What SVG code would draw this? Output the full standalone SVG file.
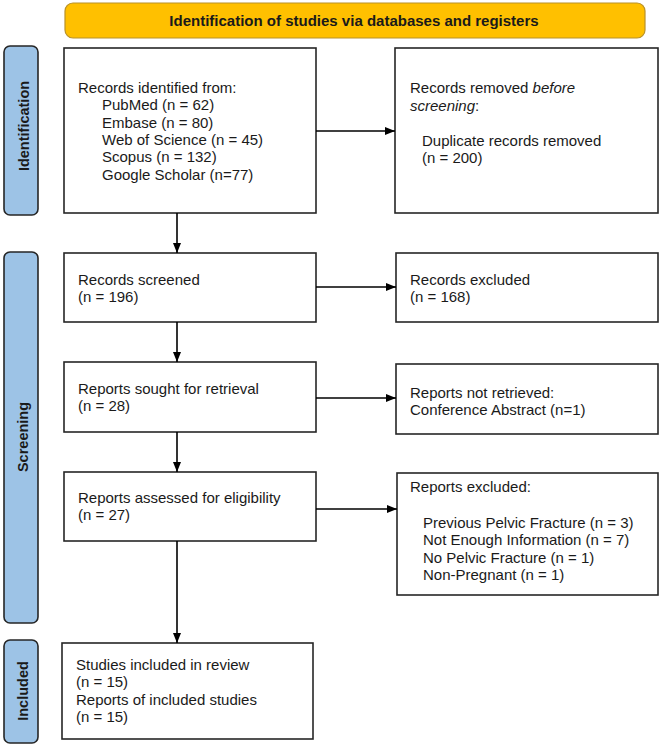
<svg xmlns="http://www.w3.org/2000/svg" width="661" height="746" viewBox="0 0 661 746">
<style>
.box{fill:#fff;stroke:#262626;stroke-width:1.6}
.t{font-family:"Liberation Sans",Arial,sans-serif;font-size:15px;fill:#1a1a1a}
.hdr{fill:#FFC000;stroke:#B8912A;stroke-width:1.2}
.bar{fill:#9DC3E6;stroke:#262626;stroke-width:1.6}
.bl{font-family:"Liberation Sans",Arial,sans-serif;font-size:14.5px;font-weight:bold;fill:#1a1a1a;text-anchor:middle}
.ht{font-family:"Liberation Sans",Arial,sans-serif;font-size:15px;font-weight:bold;fill:#1a1a1a;text-anchor:middle}
.c{stroke:#000;stroke-width:1.6;fill:none;marker-end:url(#ah)}
</style>
<defs>
<marker id="ah" viewBox="0 0 10 10" refX="10" refY="5" markerWidth="10" markerHeight="10" markerUnits="userSpaceOnUse" orient="auto">
<path d="M0,1 L10,5 L0,9 Z" fill="#000"/>
</marker>
</defs>
<g id="header">
<rect class="hdr" x="65" y="3" width="580" height="35" rx="8"/>
<text class="ht" x="354" y="26">Identification of studies via databases and registers</text>
</g>
<g id="bar-identification">
<rect class="bar" x="4" y="46" width="34" height="169" rx="6"/>
<text class="bl" transform="translate(28.5,126) rotate(-90)">Identification</text>
</g>
<g id="bar-screening">
<rect class="bar" x="4" y="252" width="34" height="371" rx="6"/>
<text class="bl" transform="translate(28,437) rotate(-90)">Screening</text>
</g>
<g id="bar-included">
<rect class="bar" x="4" y="640" width="34" height="103" rx="6"/>
<text class="bl" transform="translate(28,691) rotate(-90)">Included</text>
</g>
<g id="records-identified">
<rect class="box" x="64" y="48" width="252" height="165"/>
<text class="t" x="78" y="93">Records identified from:</text>
<text class="t" x="102" y="110.3">PubMed (n = 62)</text>
<text class="t" x="102" y="127.6">Embase (n = 80)</text>
<text class="t" x="102" y="144.9">Web of Science (n = 45)</text>
<text class="t" x="102" y="162.2">Scopus (n = 132)</text>
<text class="t" x="102" y="179.5">Google Scholar (n=77)</text>
</g>
<g id="records-removed">
<rect class="box" x="395" y="48" width="263" height="165"/>
<text class="t" x="410" y="93">Records removed <tspan font-style="italic">before</tspan></text>
<text class="t" x="410" y="111"><tspan font-style="italic">screening</tspan>:</text>
<text class="t" x="422" y="146">Duplicate records removed</text>
<text class="t" x="422" y="163">(n = 200)</text>
</g>
<g id="records-screened">
<rect class="box" x="64" y="253" width="252" height="69"/>
<text class="t" x="78" y="285">Records screened</text>
<text class="t" x="78" y="302.3">(n = 196)</text>
</g>
<g id="records-excluded">
<rect class="box" x="396" y="253" width="262" height="69"/>
<text class="t" x="410" y="285">Records excluded</text>
<text class="t" x="410" y="302.3">(n = 168)</text>
</g>
<g id="reports-sought">
<rect class="box" x="64" y="362" width="252" height="70"/>
<text class="t" x="78" y="394">Reports sought for retrieval</text>
<text class="t" x="78" y="411.3">(n = 28)</text>
</g>
<g id="reports-not-retrieved">
<rect class="box" x="396" y="364" width="262" height="70"/>
<text class="t" x="410" y="398">Reports not retrieved:</text>
<text class="t" x="410" y="415.3">Conference Abstract (n=1)</text>
</g>
<g id="reports-assessed">
<rect class="box" x="64" y="472" width="252" height="69"/>
<text class="t" x="78" y="503">Reports assessed for eligibility</text>
<text class="t" x="78" y="520.3">(n = 27)</text>
</g>
<g id="reports-excluded">
<rect class="box" x="397" y="473" width="261" height="122"/>
<text class="t" x="410" y="492">Reports excluded:</text>
<text class="t" x="423" y="528">Previous Pelvic Fracture (n = 3)</text>
<text class="t" x="423" y="545.3">Not Enough Information (n = 7)</text>
<text class="t" x="423" y="562.6">No Pelvic Fracture (n = 1)</text>
<text class="t" x="423" y="579.9">Non-Pregnant (n = 1)</text>
</g>
<g id="included">
<rect class="box" x="62" y="643" width="251" height="96"/>
<text class="t" x="76" y="670">Studies included in review</text>
<text class="t" x="76" y="687.3">(n = 15)</text>
<text class="t" x="76" y="704.6">Reports of included studies</text>
<text class="t" x="76" y="721.9">(n = 15)</text>
</g>
<g id="connectors">
<line class="c" x1="316" y1="131" x2="395" y2="131"/>
<line class="c" x1="177" y1="213" x2="177" y2="253"/>
<line class="c" x1="316" y1="287" x2="396" y2="287"/>
<line class="c" x1="177" y1="322" x2="177" y2="362"/>
<line class="c" x1="316" y1="398" x2="396" y2="398"/>
<line class="c" x1="177" y1="432" x2="177" y2="472"/>
<line class="c" x1="316" y1="509" x2="397" y2="509"/>
<line class="c" x1="177" y1="541" x2="177" y2="643"/>
</g>
</svg>
